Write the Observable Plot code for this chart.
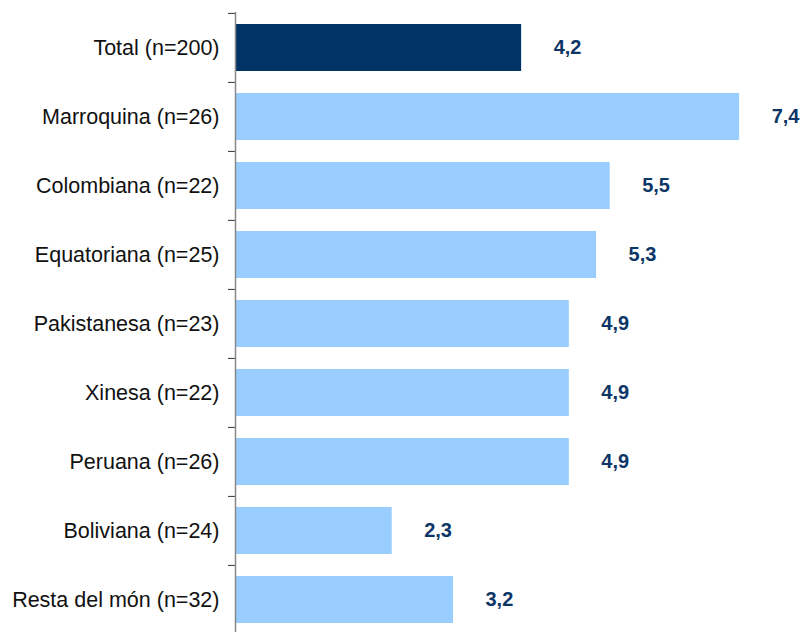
<!DOCTYPE html>
<html>
<head>
<meta charset="utf-8">
<script src="https://cdn.jsdelivr.net/npm/d3@7"></script>
<script src="https://cdn.jsdelivr.net/npm/@observablehq/plot@0.6"></script>
<style>
  html, body { margin: 0; padding: 0; background: #fff; overflow: hidden; }
  svg { display: block; }
</style>
</head>
<body>
<div id="chart"></div>
<script>
const categories = [
  "Total (n=200)",
  "Marroquina (n=26)",
  "Colombiana (n=22)",
  "Equatoriana (n=25)",
  "Pakistanesa (n=23)",
  "Xinesa (n=22)",
  "Peruana (n=26)",
  "Boliviana (n=24)",
  "Resta del món (n=32)"
];
const values = [4.2, 7.4, 5.5, 5.3, 4.9, 4.9, 4.9, 2.3, 3.2];
const isTotal = [true, false, false, false, false, false, false, false, false];

const data = categories.map((c, i) => ({category: c, value: values[i], total: isTotal[i]}));
const fmt = v => v.toFixed(1).replace(".", ",");

const chart = Plot.plot({
  width: 803,
  height: 635,
  marginTop: 12,
  marginBottom: 0,
  marginLeft: 235,
  marginRight: 23,
  style: {fontFamily: "'Liberation Sans', Arial, sans-serif", background: "#fff"},
  x: {domain: [0, 8], axis: null},
  y: {domain: categories, paddingInner: 0.32, paddingOuter: 0.16, label: null},
  marks: [
    Plot.barX(data, {
      y: "category",
      x: "value",
      fill: d => d.total ? "#003366" : "#99ccff"
    }),
    Plot.ruleY(categories, {y: d => d, x1: -0.103, x2: 0, dy: -34.6, stroke: "#333", strokeWidth: 1}),
    Plot.ruleX([0], {stroke: "#888", strokeWidth: 1.5}),
    Plot.text(data, {
      y: "category",
      x: "value",
      text: d => fmt(d.value),
      dx: 32,
      textAnchor: "start",
      fill: "#0d3566",
      fontWeight: "bold",
      fontSize: 20
    }),
    Plot.axisY({tickSize: 0, tickPadding: 16, fontSize: 21.5, label: null, color: "#111"})
  ]
});
document.getElementById("chart").appendChild(chart);
</script>
</body>
</html>
